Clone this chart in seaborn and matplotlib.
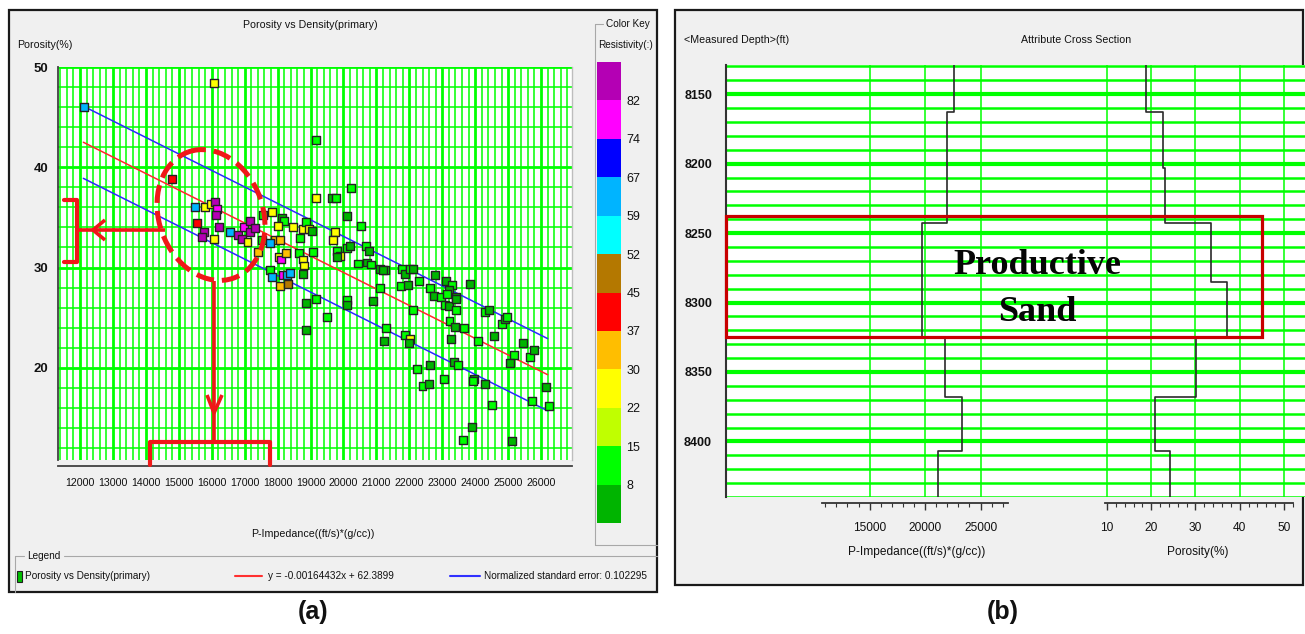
import numpy as np
import pandas as pd
import matplotlib
matplotlib.use("Agg")
import matplotlib.pyplot as plt
import matplotlib.ticker as mt
import matplotlib.transforms as mtrans
from matplotlib import font_manager as fm
from matplotlib.colors import ListedColormap, BoundaryNorm
from matplotlib.cm import ScalarMappable
from matplotlib.patches import Rectangle, Ellipse
import seaborn as sns

# ---------------- panel (a) data : cross-plot ----------------
p_impedance = [
    12130, 16080, 14790, 15505, 15780, 15990, 16095, 16155, 16135, 15545,
    15750, 15710, 16075, 16225, 16560, 16810, 16925, 17085, 16985, 17170,
    17150, 17320, 17560, 17835, 18140, 18200, 18010, 17540, 17935, 18060,
    17775, 17400, 18030, 18110, 18260, 18480, 18760, 18690, 18640, 17775,
    17815, 18160, 18280, 18380, 18060, 18310, 19170,
    20240, 19170, 19650, 19760, 20100, 20520, 18870, 18960, 19040, 19750,
    19670, 20100, 20190, 19810, 19890, 19800, 20690, 20780, 19070, 18760,
    18810, 18760, 20450, 20720, 20850, 21120, 21270, 21190, 21100, 21790,
    21880, 22020, 22110, 21760, 21950, 22300, 22780, 22620, 22750, 22950,
    23120, 23300, 23190, 23150, 23420, 23090, 23210, 23430, 23830, 23220,
    23400, 23660, 23270, 22100, 20890, 20100, 20100, 19170, 18870, 19490,
    18860, 21300, 21240, 21870, 22010, 21980, 22220, 22620, 22400, 22590,
    23040, 23350, 23470, 23950, 23920, 24300, 24520, 23900, 23640, 25120,
    24080, 24560, 24300, 24410, 24820, 24920, 24980, 25440, 25180, 25050,
    25670, 25790, 25730, 26150, 26230, 23430,
]
porosity = [
    46.0, 48.4, 38.8, 36.0, 36.0, 36.3, 36.5, 35.8, 35.2, 34.4,
    33.5, 33.0, 32.8, 34.0, 33.5, 33.2, 32.8, 32.5, 34.0, 34.6,
    33.5, 33.9, 35.2, 35.5, 34.9, 34.6, 34.1, 32.7, 32.7, 32.7,
    32.4, 31.5, 31.0, 30.8, 31.4, 34.0, 33.8, 32.9, 31.4, 29.8,
    29.1, 29.3, 29.3, 29.5, 28.2, 28.4, 42.7,
    37.9, 36.9, 36.9, 36.9, 35.1, 34.1, 34.5, 33.8, 33.6, 33.5,
    32.7, 31.9, 32.1, 31.6, 31.1, 31.0, 32.1, 31.6, 31.5, 30.8,
    30.2, 29.4, 30.4, 30.5, 30.3, 29.9, 29.8, 29.8, 28.0, 29.9,
    29.4, 29.9, 29.9, 28.2, 28.3, 28.7, 29.3, 28.0, 27.2, 27.1,
    28.7, 28.3, 27.8, 27.4, 27.1, 26.3, 26.2, 25.8, 28.4, 24.7,
    24.1, 24.0, 22.9, 25.8, 26.7, 26.8, 26.3, 26.9, 26.5, 25.1,
    23.8, 24.0, 22.7, 23.3, 22.9, 22.5, 19.9, 20.3, 18.2, 18.4,
    18.9, 20.6, 20.3, 18.9, 18.7, 18.4, 16.3, 14.1, 12.8, 12.7,
    22.7, 23.2, 25.6, 25.8, 24.4, 24.9, 25.1, 22.5, 21.3, 20.5,
    21.1, 21.8, 16.7, 18.1, 16.2, 26.9,
]
resistivity = [
    63, 26, 41, 63, 26, 26, 86, 78, 86, 41,
    86, 86, 26, 86, 63, 86, 86, 26, 78, 86,
    86, 86, 12, 26, 5, 12, 26, 12, 33, 33,
    63, 33, 26, 78, 33, 26, 26, 12, 12, 12,
    63, 78, 63, 63, 33, 48, 12,
    12, 26, 5, 12, 5, 12, 12, 26, 5, 26,
    26, 12, 5, 12, 26, 5, 12, 5, 12, 26,
    26, 5, 12, 5, 12, 5, 12, 5, 12, 12,
    5, 12, 5, 12, 5, 12, 5, 12, 5, 12,
    5, 12, 5, 12, 5, 12, 5, 12, 5, 12,
    5, 12, 5, 12, 5, 12, 5, 12, 5, 12,
    5, 12, 5, 12, 26, 5, 12, 5, 12, 5,
    12, 5, 12, 5, 12, 5, 12, 5, 12, 5,
    12, 5, 12, 5, 12, 5, 12, 5, 12, 5,
    12, 5, 12, 5, 12, 5,
]

reg_slope = -0.00164432
reg_intercept = 62.3899
norm_std_error = 0.102295
band_half_width = 3.6
reg_x_span = [12100, 26200]

key_bounds = [0, 8, 15, 22, 30, 37, 45, 52, 59, 67, 74, 82, 90]
key_colors = ["#00b400", "#00ff00", "#c0ff00", "#ffff00", "#ffbe00", "#ff0000",
              "#b47800", "#00ffff", "#00b4ff", "#0000ff", "#ff00ff", "#b400b4"]
key_ticks = [8, 15, 22, 30, 37, 45, 52, 59, 67, 74, 82]

# ---------------- panel (b) data : well logs ----------------
step_depths = [8127, 8163, 8203, 8243, 8285, 8325, 8368, 8407, 8440]
impedance_log = [22650, 22000, 22000, 19700, 19700, 21800, 23350, 21200]
porosity_log = [18.8, 22.7, 23.1, 33.6, 37.2, 30.2, 20.9, 24.3]
imp_ticks = [15000, 20000, 25000]
por_ticks = [10, 20, 30, 40, 50]
productive_top, productive_base = 8238, 8324.5

# ---------------- styling ----------------
sns.set_style("white")


def has_font(name):
    try:
        fm.findfont(fm.FontProperties(family=name), fallback_to_default=False)
        return True
    except Exception:
        return False


NARROW = has_font("Liberation Sans Narrow")
UI = (["Liberation Sans Narrow", "Liberation Sans", "DejaVu Sans"] if NARROW
      else ["Liberation Sans", "DejaVu Sans"])
K = 1.0 if NARROW else 0.9
plt.rcParams["font.family"] = UI
TXT = "#111111"
GREEN = "#00ff00"
RED = "#f01818"

W, H = 1305, 634
fig = plt.figure(figsize=(W / 100, H / 100), dpi=100)
fig.patch.set_facecolor("white")


def rect(x0, y0, x1, y1):
    return [x0 / W, 1 - y1 / H, (x1 - x0) / W, (y1 - y0) / H]


# background frames / static labels
bg = fig.add_axes([0, 0, 1, 1], zorder=-10)
bg.set_xlim(0, W)
bg.set_ylim(H, 0)
bg.axis("off")
bg.add_patch(Rectangle((9, 10), 648, 582, fc="#f0f0f0", ec="#1a1a1a", lw=1.6))
bg.add_patch(Rectangle((675, 10), 628, 575, fc="#f0f0f0", ec="#1a1a1a", lw=1.6))

GB = "#a8a8a8"
LEG = 8.0 * K
bg.plot([595, 603], [24, 24], color=GB, lw=0.8)
bg.plot([595, 595], [24, 545], color=GB, lw=0.8)
bg.plot([595, 657], [545, 545], color=GB, lw=0.8)
bg.text(606, 24, "Color Key", fontsize=LEG, color=TXT, va="center", ha="left")
bg.text(598, 45, "Resistivity(:)", fontsize=LEG, color=TXT, va="center", ha="left")

bg.plot([15, 24], [556, 556], color=GB, lw=0.8)
bg.plot([64, 657], [556, 556], color=GB, lw=0.8)
bg.plot([15, 15], [556, 592], color=GB, lw=0.8)
bg.text(27, 556, "Legend", fontsize=LEG, color=TXT, va="center", ha="left")
bg.add_patch(Rectangle((16.5, 570.5), 5, 11, fc="#00c000", ec="#202020", lw=0.8))
bg.text(25, 576, "Porosity vs Density(primary)", fontsize=LEG, color=TXT, va="center")
bg.plot([235, 262], [576, 576], color="#ff3030", lw=1.5)
bg.text(268, 576, f"y = {reg_slope}x + {reg_intercept}", fontsize=LEG, color=TXT, va="center")
bg.plot([450, 480], [576, 576], color="#3030ff", lw=1.5)
bg.text(484, 576, f"Normalized standard error: {norm_std_error}", fontsize=LEG,
        color=TXT, va="center")

bg.text(313, 612, "(a)", fontsize=18, fontweight="bold", ha="center", va="center",
        family=["Liberation Sans", "DejaVu Sans"], color="#111111")
bg.text(1003, 612, "(b)", fontsize=18, fontweight="bold", ha="center", va="center",
        family=["Liberation Sans", "DejaVu Sans"], color="#111111")
bg.text(684, 40, "<Measured Depth>(ft)", fontsize=8.5 * K, color=TXT, va="center", ha="left")
bg.text(1076, 40, "Attribute Cross Section", fontsize=8.5 * K, color=TXT, va="center", ha="center")

# ---------------- panel (a): scatter ----------------
cmap = ListedColormap(key_colors)
norm = BoundaryNorm(key_bounds, cmap.N)
palette = {r: cmap(int(np.asarray(norm([r]))[0])) for r in sorted(set(resistivity))}

ax = fig.add_axes(rect(58, 67, 572, 460))
ax.set_facecolor("white")
df = pd.DataFrame({"imp": p_impedance, "por": porosity, "res": resistivity})

xr = np.array(reg_x_span, dtype=float)
yr = reg_slope * xr + reg_intercept
sns.lineplot(x=xr, y=yr, color="#ff2a2a", lw=1.1, ax=ax)
sns.lineplot(x=xr, y=yr + band_half_width, color="#2a2aff", lw=1.1, ax=ax)
sns.lineplot(x=xr, y=yr - band_half_width, color="#2a2aff", lw=1.1, ax=ax)
sns.scatterplot(data=df, x="imp", y="por", hue="res", palette=palette, marker="s",
                s=33, edgecolor="#222222", linewidth=1.0, legend=False, ax=ax, zorder=5)

ax.set_xlim(11330, 26940)
ax.set_ylim(10.8, 50)
ax.xaxis.set_major_locator(mt.MultipleLocator(1000))
ax.xaxis.set_minor_locator(mt.MultipleLocator(200))
ax.yaxis.set_major_locator(mt.MultipleLocator(10))
ax.yaxis.set_minor_locator(mt.MultipleLocator(2))
ax.xaxis.set_major_formatter(mt.FormatStrFormatter("%d"))
ax.yaxis.set_major_formatter(mt.FormatStrFormatter("%d"))
ax.set_axisbelow(True)
ax.grid(True, which="major", color=GREEN, lw=2.0)
ax.grid(True, which="minor", color=GREEN, lw=1.1)
ax.spines["top"].set_visible(False)
ax.spines["right"].set_color("#bdbdbd")
ax.spines["right"].set_linewidth(1.0)
for s in ("left", "bottom"):
    ax.spines[s].set_color("#404040")
    ax.spines[s].set_linewidth(1.3)
ax.spines["bottom"].set_position(("outward", 4))
ax.tick_params(which="both", direction="out", color="#404040", labelcolor=TXT)
ax.tick_params(which="major", length=5, width=1)
ax.tick_params(which="minor", length=3, width=0.8)
ax.tick_params(axis="x", labelsize=8.5 * K, pad=4)
ax.tick_params(axis="y", labelsize=10.5 * K, pad=2)
for lab in ax.get_yticklabels():
    lab.set_fontweight("bold")

ax.set_xlabel("P-Impedance((ft/s)*(g/cc))", fontsize=8.5 * K, color=TXT, va="top")
ax.xaxis.set_label_coords((313 - 58) / 514, (460 - 529) / 393)
ax.set_ylabel("Porosity(%)", fontsize=8.5 * K, color=TXT, rotation=0, ha="left", va="center")
ax.yaxis.set_label_coords((17 - 58) / 514, (460 - 45) / 393)
ax.set_title("Porosity vs Density(primary)", fontsize=8.5 * K, color=TXT,
             x=(310 - 58) / 514, pad=28)

# colour key
cax = fig.add_axes(rect(597, 62, 621, 523))
cb = fig.colorbar(ScalarMappable(norm=norm, cmap=cmap), cax=cax, ticks=key_ticks,
                  spacing="uniform")
cb.outline.set_visible(False)
cax.minorticks_off()
cax.tick_params(which="both", length=0, pad=4, labelsize=10 * K, labelcolor=TXT)

# ---------------- panel (b): logs ----------------
axR = fig.add_axes(rect(726, 65, 1305, 497))
axR.set_facecolor("white")
axR.set_xlim(2051, 54261)
axR.set_ylim(8440, 8129)
axP = axR.twiny()
axP.set_xlim(-76.1, 54.75)


def steps(depths, vals):
    d = np.asarray(depths, float)
    v = np.asarray(vals, float)
    ys = np.column_stack([d[:-1], d[1:]]).ravel()
    xs = np.repeat(v, 2)
    return xs, ys


xi, yi = steps(step_depths, impedance_log)
xp, yp = steps(step_depths, porosity_log)
sns.lineplot(x=xi, y=yi, sort=False, estimator=None, color="#2b2b2b", lw=1.2, ax=axR)
sns.lineplot(x=xp, y=yp, sort=False, estimator=None, color="#2b2b2b", lw=1.2, ax=axP)
axR.set_ylim(8440, 8129)

axR.yaxis.set_major_locator(mt.MultipleLocator(50))
axR.yaxis.set_minor_locator(mt.MultipleLocator(10))
axR.yaxis.set_major_formatter(mt.FormatStrFormatter("%d"))
axR.xaxis.set_major_locator(mt.FixedLocator(imp_ticks))
axR.xaxis.set_minor_locator(mt.FixedLocator(list(range(11000, 28000, 1000))))
axR.xaxis.set_major_formatter(mt.FormatStrFormatter("%d"))
axP.xaxis.set_major_locator(mt.FixedLocator(por_ticks))
axP.xaxis.set_minor_locator(mt.FixedLocator(list(range(10, 53, 2))))
axP.xaxis.set_major_formatter(mt.FormatStrFormatter("%d"))

axR.set_axisbelow(True)
axP.set_axisbelow(True)
axR.grid(True, axis="y", which="major", color=GREEN, lw=3.0)
axR.grid(True, axis="y", which="minor", color=GREEN, lw=1.8)
axR.grid(True, axis="x", which="major", color=GREEN, lw=1.1)
axP.grid(True, axis="x", which="major", color=GREEN, lw=1.1)

for a in (axR, axP):
    a.spines["top"].set_visible(False)
    a.spines["right"].set_visible(False)
axP.spines["left"].set_visible(False)
axP.xaxis.set_ticks_position("bottom")
axP.xaxis.set_label_position("bottom")
axP.spines["bottom"].set_visible(True)
axR.spines["left"].set_color("#333333")
axR.spines["left"].set_linewidth(1.5)
axR.spines["bottom"].set_bounds(10700, 27500)
axP.spines["bottom"].set_bounds(9.5, 52.1)
for a in (axR, axP):
    a.spines["bottom"].set_position(("outward", 4))
    a.spines["bottom"].set_color("#333333")
    a.spines["bottom"].set_linewidth(1.3)
    a.tick_params(axis="x", which="both", direction="out", color="#333333",
                  labelcolor=TXT, labelsize=9.5 * K, pad=9)
    a.tick_params(axis="x", which="major", length=5, width=1)
    a.tick_params(axis="x", which="minor", length=3, width=0.8)
axR.tick_params(axis="y", which="both", direction="out", color="#333333",
                labelcolor=TXT, labelsize=10 * K, pad=3)
axR.tick_params(axis="y", which="major", length=7, width=1)
axR.tick_params(axis="y", which="minor", length=3.5, width=0.8)
for lab in axR.get_yticklabels():
    lab.set_fontweight("bold")

axR.set_xlabel("P-Impedance((ft/s)*(g/cc))", fontsize=9.5 * K, color=TXT, va="top")
axR.xaxis.set_label_coords((917 - 726) / 579, (497 - 546) / 432)
axP.set_xlabel("Porosity(%)", fontsize=9.5 * K, color=TXT, va="top")
axP.xaxis.set_label_coords((1198 - 726) / 579, (497 - 546) / 432)

blend = mtrans.blended_transform_factory(axP.transAxes, axP.transData)
axP.add_patch(Rectangle((0, productive_top), (1262 - 726) / 579,
                        productive_base - productive_top, transform=blend, fill=False,
                        ec="#c80000", lw=2.3, clip_on=False, zorder=6))
axP.text((1037 - 726) / 579, 8273, "Productive", transform=blend, ha="center", va="center",
         fontsize=26, fontweight="bold", family=["Liberation Serif", "DejaVu Serif"],
         color="#050505", zorder=7)
axP.text((1037 - 726) / 579, 8307, "Sand", transform=blend, ha="center", va="center",
         fontsize=26, fontweight="bold", family=["Liberation Serif", "DejaVu Serif"],
         color="#050505", zorder=7)

# ---------------- red hand-drawn annotations on (a) ----------------
fg = fig.add_axes([0, 0, 1, 1], zorder=30)
fg.set_xlim(0, W)
fg.set_ylim(H, 0)
fg.axis("off")
fg.patch.set_alpha(0)
fg.add_patch(Ellipse((211, 215), 104, 134, angle=-20, fill=False, ec=RED, lw=3.6,
                     ls=(0, (3.6, 1.6))))
kw = dict(color=RED, lw=2.6, solid_joinstyle="round", solid_capstyle="butt")
fg.plot([165, 77], [230, 230], **kw)
fg.plot([105, 93, 105], [220, 230, 240], **kw)
fg.plot([64, 77, 77, 64], [200, 200, 262, 262], color=RED, lw=3.0, solid_joinstyle="round")
fg.plot([214, 214], [281, 442], **kw)
fg.plot([207, 214, 222], [395, 413, 395], **kw)
fg.plot([150, 150, 270, 270], [465, 442, 442, 465], color=RED, lw=3.0, solid_joinstyle="round")

fig.savefig("out.png", dpi=100, facecolor="white")
